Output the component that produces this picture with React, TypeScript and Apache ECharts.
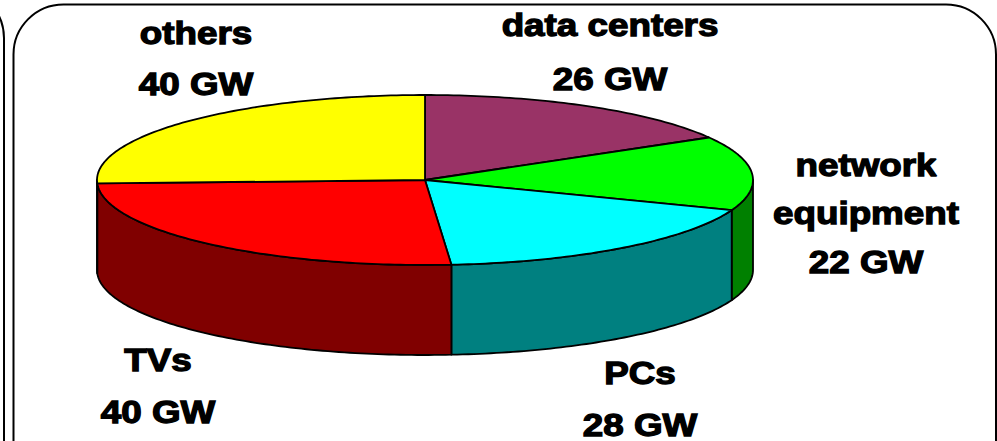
import React, { useEffect, useRef } from "react";
import * as echarts from "echarts";

// ---- data ----
const categories = ["data centers", "network equipment", "PCs", "TVs", "others"];
const values = [26, 22, 28, 40, 40];
const unit = "GW";
const topColors = ["#993366", "#00FF00", "#00FFFF", "#FF0000", "#FFFF00"];
const sideColors = ["#4D1A33", "#008000", "#008080", "#800000", "#808000"];
const labelLines = [["data centers"], ["network", "equipment"], ["PCs"], ["TVs"], ["others"]];

// ---- layout ----
const CX = 425;
const CY = 180;
const RX = 328;
const RY = 85;
const DEPTH = 90;
// [centerX, first-line middle Y, line gap]
const labelLayout = [
  [610, 25, 53.5],
  [866, 164.5, 48.5],
  [640, 373, 51.5],
  [158, 360, 52],
  [196, 32.5, 51],
];

function pt(theta: number, dy: number): number[] {
  return [CX + RX * Math.sin(theta), CY - RY * Math.cos(theta) + dy];
}
function arc(a: number, b: number, dy: number): number[][] {
  const n = Math.max(2, Math.ceil(Math.abs(b - a) / (Math.PI / 180)));
  const out: number[][] = [];
  for (let i = 0; i <= n; i++) out.push(pt(a + ((b - a) * i) / n, dy));
  return out;
}

export default function App() {
  const ref = useRef<HTMLDivElement>(null);
  useEffect(() => {
    if (!ref.current) return;
    const chart = echarts.init(ref.current, undefined, { renderer: "svg" });
    const total = values.reduce((s, v) => s + v, 0);
    const starts: number[] = [];
    let acc = 0;
    values.forEach((v) => {
      starts.push((acc / total) * Math.PI * 2);
      acc += v;
    });

    const texts: any[] = [];
    labelLines.forEach((lines, i) => {
      const [x, y, gap] = labelLayout[i];
      const all = [...lines, `${values[i]} ${unit}`];
      all.forEach((t, j) => {
        texts.push({
          type: "text",
          x,
          y: y + j * gap,
          scaleX: 1.15,
          z: 10,
          style: {
            text: t,
            fill: "#000",
            stroke: "#000",
            lineWidth: 1.3,
            fontSize: 32,
            fontWeight: "bold",
            fontFamily: "Liberation Sans, Arial, sans-serif",
            align: "center",
            verticalAlign: "middle",
          },
        });
      });
    });

    chart.setOption({
      animation: false,
      backgroundColor: "#ffffff",
      graphic: [
        {
          type: "rect",
          z: 0,
          shape: { x: 13.5, y: 4.5, width: 982.5, height: 600, r: 50 },
          style: { fill: "none", stroke: "#000", lineWidth: 2 },
        },
        {
          type: "rect",
          z: 0,
          shape: { x: -300, y: -12, width: 304, height: 700, r: 50 },
          style: { fill: "none", stroke: "#000", lineWidth: 2 },
        },
        ...texts,
      ],
      series: [
        {
          type: "custom",
          coordinateSystem: "none",
          data: values.map((v, i) => ({ name: categories[i], value: v })),
          renderItem: (params: any, api: any) => {
            const i = params.dataIndex;
            const v = api.value(0);
            const a0 = starts[i];
            const a1 = a0 + (v / total) * Math.PI * 2;
            const children: any[] = [];
            const sa = Math.max(a0, Math.PI / 2);
            const sb = Math.min(a1, (Math.PI * 3) / 2);
            if (sa < sb) {
              const pts = arc(sa, sb, 0).concat(arc(sb, sa, DEPTH));
              children.push({
                type: "polygon",
                shape: { points: pts },
                style: { fill: sideColors[i], stroke: "#000", lineWidth: 1.8, lineJoin: "round" },
              });
            }
            children.push({
              type: "polygon",
              shape: { points: [[CX, CY], ...arc(a0, a1, 0)] },
              style: { fill: topColors[i], stroke: "#000", lineWidth: 1.8, lineJoin: "round" },
            });
            return { type: "group", children };
          },
        },
      ],
    });
    return () => chart.dispose();
  }, []);
  return (
    <div
      ref={ref}
      style={{ position: "fixed", left: 0, top: 0, width: 997, height: 441 }}
    />
  );
}
